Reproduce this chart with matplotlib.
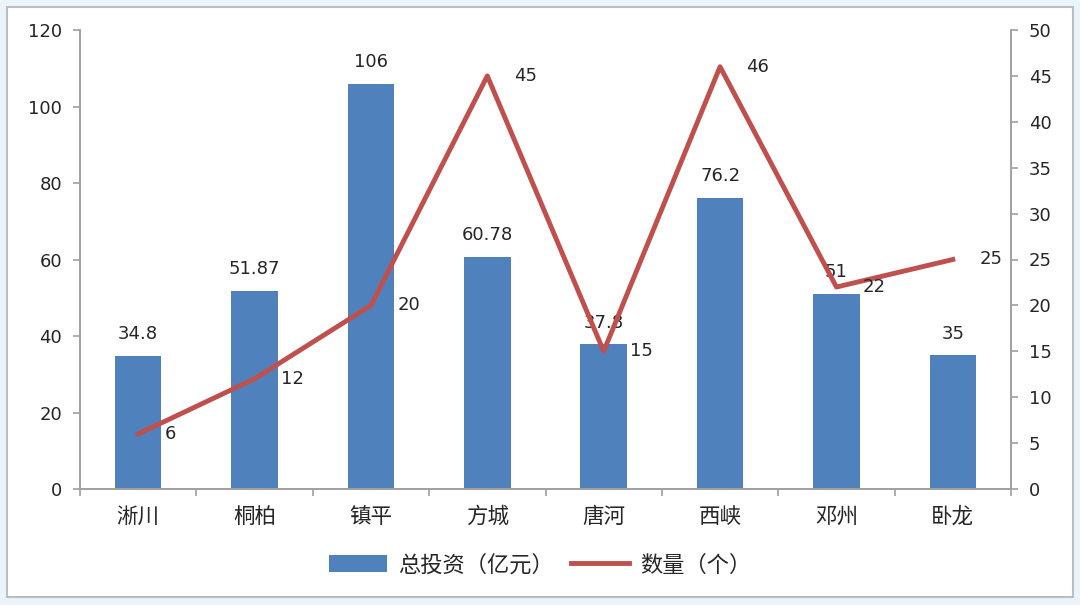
import matplotlib.pyplot as plt
from matplotlib.patches import Rectangle

plt.rcParams['font.family'] = ['DejaVu Sans', 'Noto Sans CJK SC']

cities = ["淅川", "桐柏", "镇平", "方城", "唐河", "西峡", "邓州", "卧龙"]
invest = [34.8, 51.87, 106, 60.78, 37.8, 76.2, 51, 35]
invest_labels = ["34.8", "51.87", "106", "60.78", "37.8", "76.2", "51", "35"]
count = [6, 12, 20, 45, 15, 46, 22, 25]

blue = "#4F81BD"
red = "#C0504D"
grey = "#A0A0A0"
txt = "#262626"
cjk = ['Noto Sans CJK SC', 'DejaVu Sans']

fig = plt.figure(figsize=(10.8, 6.05), dpi=100)
fig.patch.set_facecolor("#EAF4FB")
# white panel with grey border
panel = Rectangle((7/1080, 8/605), 1066/1080, 590/605, transform=fig.transFigure,
                  facecolor="white", edgecolor="#BDBDBD", linewidth=1.5, zorder=-10)
fig.patches.append(panel)

ax = fig.add_axes([80/1080, 1 - 489/605, 931/1080, 459/605])
ax.set_facecolor("none")
x = range(len(cities))
bars = ax.bar(x, invest, width=0.4, color=blue, label="总投资（亿元）", zorder=2)
for i, v in enumerate(invest):
    ax.annotate(invest_labels[i], (i, v), xytext=(0, 9), textcoords="offset points",
                ha="center", va="bottom", fontsize=13, color=txt)

ax.set_xlim(-0.5, len(cities) - 0.5)
ax.set_ylim(0, 120)
ax.set_yticks(range(0, 121, 20))
ax.set_xticks(list(x))
ax.set_xticklabels(cities, fontsize=15.5, color=txt, family=cjk)
ax.set_xticks([i + 0.5 for i in range(-1, len(cities))], minor=True)
ax.tick_params(axis="x", which="major", length=0, pad=12)
ax.tick_params(axis="x", which="minor", length=5, color=grey, width=1.2)
ax.tick_params(axis="y", length=5, color=grey, width=1.2, labelsize=13, labelcolor=txt, pad=8)

ax2 = ax.twinx()
line, = ax2.plot(list(x), count, color=red, linewidth=3.5, label="数量（个）", zorder=3)
for i, v in enumerate(count):
    ax2.annotate(str(v), (i, v), xytext=(19, 0), textcoords="offset points",
                 ha="left", va="center", fontsize=13, color=txt)
ax2.set_ylim(0, 50)
ax2.set_yticks(range(0, 51, 5))
ax2.tick_params(axis="y", length=5, color=grey, width=1.2, labelsize=13, labelcolor=txt, pad=8)

for a in (ax, ax2):
    a.spines["top"].set_visible(False)
    for s in ("left", "right", "bottom"):
        a.spines[s].set_color(grey)
        a.spines[s].set_linewidth(1.2)

fig.legend(handles=[bars, line], labels=["总投资（亿元）", "数量（个）"], loc="center",
           bbox_to_anchor=(0.5, 1 - 565/605), ncol=2, frameon=False,
           prop={'family': cjk, 'size': 16},
           handlelength=2.6, handleheight=0.8, columnspacing=0.8, handletextpad=0.5,
           labelcolor=txt)

fig.savefig("out.png", dpi=100)
